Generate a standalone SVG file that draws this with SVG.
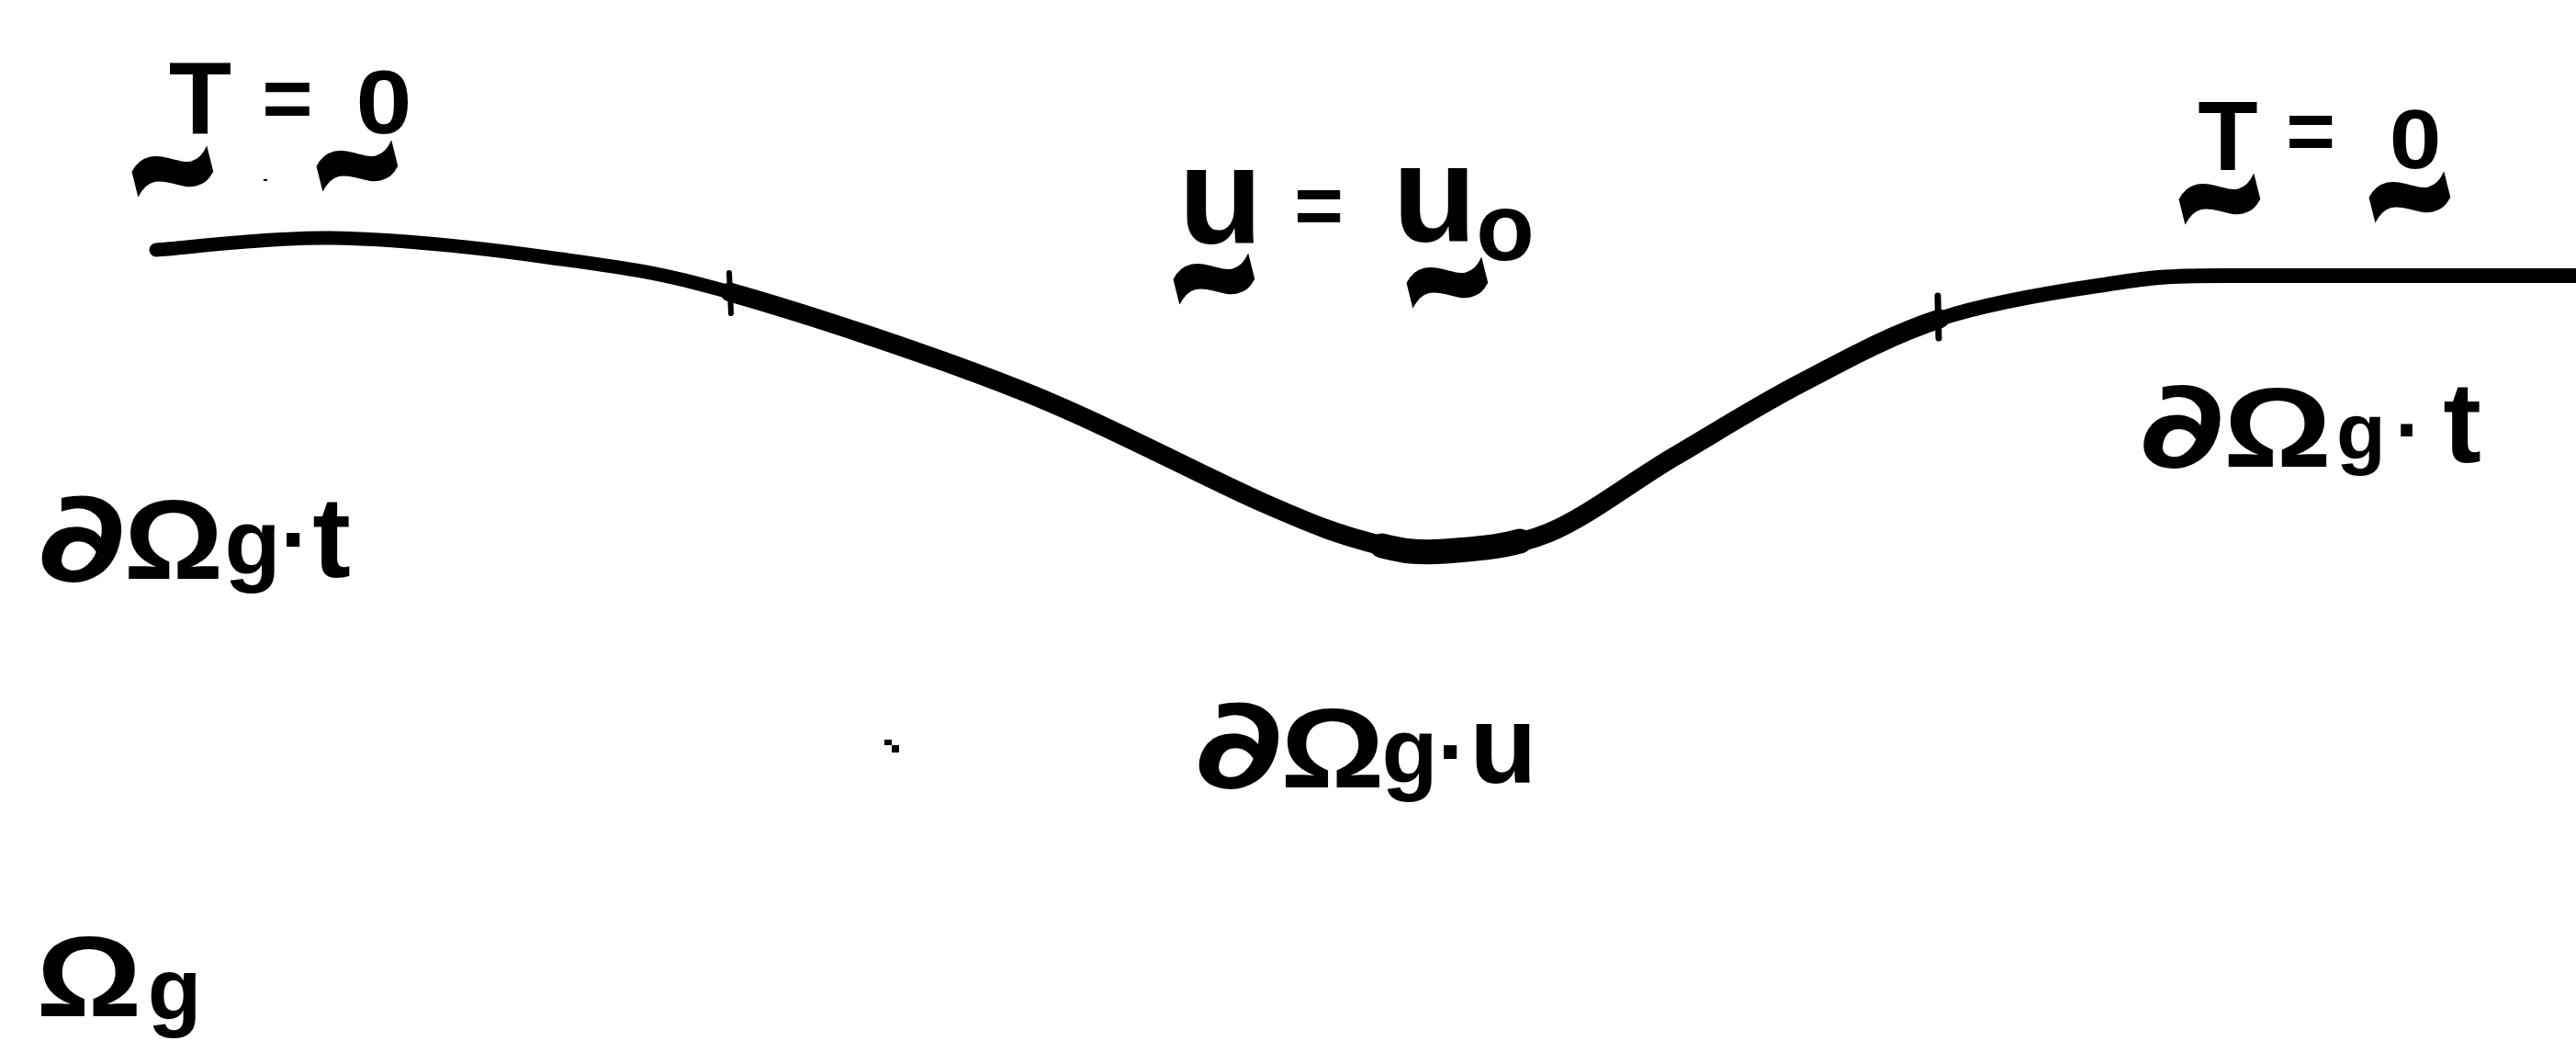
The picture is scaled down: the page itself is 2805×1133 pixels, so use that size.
<svg xmlns="http://www.w3.org/2000/svg" width="2805" height="1133" viewBox="0 0 2805 1133">
<style>
.g{font-family:"Liberation Sans","DejaVu Sans",sans-serif;font-weight:bold;fill:#000;text-anchor:middle}
.d{font-family:"DejaVu Sans","Liberation Sans",sans-serif;font-weight:bold;fill:#000;text-anchor:middle}
.tl{font-family:"Liberation Sans","DejaVu Sans",sans-serif;font-weight:bold;font-size:170px;fill:#000;text-anchor:middle}
.b{fill:none;stroke:#000;stroke-linecap:round;stroke-linejoin:round}
</style>
<rect width="2805" height="1133" fill="#fff"/>
<g id="connectors">
<path class="b" stroke-width="15" d="M170,272 C202,270 289,258 360,259 C431,260 524,270 596,280 C668,290 710,294 795,318"/>
<path class="b" stroke-width="21" d="M795,318 C880,342 1010,385 1107,423 C1204,461 1311,519 1375,547 C1439,575 1457,581 1490,590 C1523,599 1540,602 1573,600 C1606,598 1644,597 1686,580 C1728,563 1777,524 1823,497 C1869,470 1913,442 1961,417 C2009,392 2057,365 2112,347"/>
<path class="b" stroke-width="27" d="M1505,594 C1528,600 1545,602 1573,600 C1600,598 1630,596 1655,589"/>
<path class="b" stroke-width="16" d="M2112,347 C2167,329 2236,318 2291,310 C2339,302 2360,300 2420,300 L2805,300"/>
<path class="b" stroke-width="6" d="M794,297 L796,341"/>
<path class="b" stroke-width="7" d="M2110,322 L2111,368"/>
</g>
<g id="label-T-left">
<text class="g" x="218" y="145" font-size="112">T</text>
<text class="g" x="313" y="139" font-size="95">=</text>
<text class="g" transform="translate(418,145) scale(1.12,1)" x="0" y="0" font-size="98">0</text>
<text class="tl" transform="translate(187,184) rotate(-14) scale(1,1.6)" x="0" y="58">~</text>
<text class="tl" transform="translate(388,178) rotate(-14) scale(1,1.6)" x="0" y="58">~</text>
</g>
<g id="label-u">
<text class="g" x="1329" y="265" font-size="150">u</text>
<text class="g" x="1436" y="255" font-size="92">=</text>
<text class="g" x="1562" y="263" font-size="150">u</text>
<text class="g" x="1639" y="283" font-size="104">o</text>
<text class="tl" transform="translate(1321,301) rotate(-14) scale(1,1.6)" x="0" y="58">~</text>
<text class="tl" transform="translate(1575,305) rotate(-14) scale(1,1.6)" x="0" y="58">~</text>
</g>
<g id="label-T-right">
<text class="g" x="2426" y="185" font-size="107">T</text>
<text class="g" x="2516" y="174" font-size="92">=</text>
<text class="g" transform="translate(2630,183) scale(1.12,1)" x="0" y="0" font-size="91">0</text>
<text class="tl" transform="translate(2416,214) rotate(-14) scale(1,1.6)" x="0" y="58">~</text>
<text class="tl" transform="translate(2623,212) rotate(-14) scale(1,1.6)" x="0" y="58">~</text>
</g>
<g id="label-dOmega-t-right">
<text class="d" transform="translate(2376,508) scale(1.3,1)" x="0" y="0" font-size="132">∂</text>
<text class="g" transform="translate(2480,508) scale(1.2,1)" x="0" y="0" font-size="123">Ω</text>
<text class="g" x="2571" y="500" font-size="88">g</text>
<text class="g" x="2623" y="499" font-size="90">·</text>
<text class="g" x="2681" y="503" font-size="125">t</text>
</g>
<g id="label-dOmega-t-left">
<text class="d" transform="translate(89,632) scale(1.3,1)" x="0" y="0" font-size="137">∂</text>
<text class="g" transform="translate(189,630) scale(1.1,1)" x="0" y="0" font-size="123">Ω</text>
<text class="g" x="275" y="625" font-size="100">g</text>
<text class="g" x="322" y="621" font-size="100">·</text>
<text class="g" x="361" y="628" font-size="125">t</text>
</g>
<g id="label-dOmega-u">
<text class="d" transform="translate(1349,857) scale(1.3,1)" x="0" y="0" font-size="137">∂</text>
<text class="g" transform="translate(1451,857) scale(1.15,1)" x="0" y="0" font-size="123">Ω</text>
<text class="g" x="1535" y="852" font-size="100">g</text>
<text class="g" x="1582" y="852" font-size="100">·</text>
<text class="g" x="1637" y="852" font-size="120">u</text>
</g>
<g id="label-Omega-g">
<text class="g" transform="translate(97,1106) scale(1.15,1)" x="0" y="0" font-size="125">Ω</text>
<text class="g" x="190" y="1110" font-size="96">g</text>
</g>
<g id="specks">
<rect x="963" y="805" width="8" height="6"/>
<rect x="971" y="811" width="8" height="8"/>
<rect x="287" y="195" width="4" height="2"/>
</g>
</svg>
